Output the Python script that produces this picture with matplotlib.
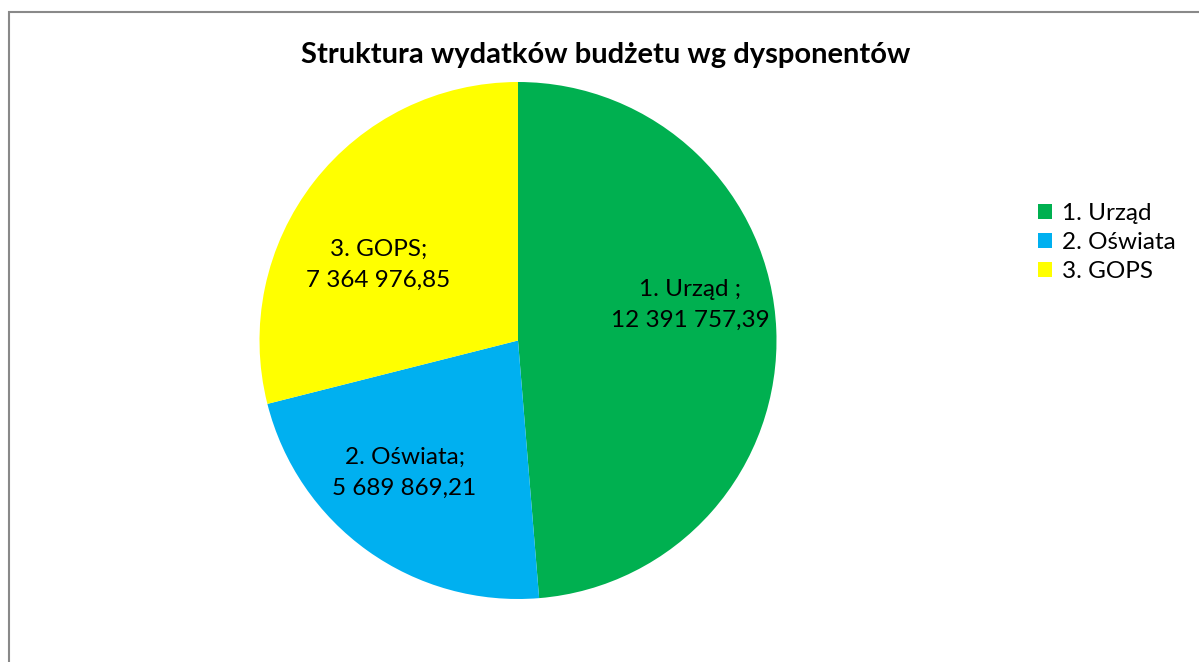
import matplotlib.pyplot as plt
from matplotlib.patches import Rectangle

# Data
CATEGORIES = ["1. Urząd", "2. Oświata", "3. GOPS"]
LABEL_PREFIX = ["1. Urząd ;", "2. Oświata;", "3. GOPS;"]
VALUES = [12391757.39, 5689869.21, 7364976.85]
COLORS = ["#00B050", "#00B0F0", "#FFFF00"]
TITLE = "Struktura wydatków budżetu wg dysponentów"

plt.rcParams['font.family'] = ['Lato', 'DejaVu Sans']

W, H = 1199, 662
fig = plt.figure(figsize=(W / 100, H / 100), dpi=100)

# chart area border (open to the right/bottom as in the source)
fig.patches.append(Rectangle((8.5 / W, -0.1), 1.2, 1 - 11.5 / H + 0.1,
                             transform=fig.transFigure, fill=False,
                             edgecolor="#898989", linewidth=1.5))


def pl_fmt(v):
    return f"{v:,.2f}".replace(",", " ").replace(".", ",")


cx, cy, r = 518, 340.5, 258.5
ax = fig.add_axes([(cx - r) / W, (H - cy - r) / H, 2 * r / W, 2 * r / H])

labels = [f"{p}\n{pl_fmt(v)}" for p, v in zip(LABEL_PREFIX, VALUES)]
wedges, texts = ax.pie(VALUES, colors=COLORS, startangle=90, counterclock=False,
                       labels=labels, labeldistance=0.67,
                       textprops={'fontsize': 17.5, 'ha': 'center', 'va': 'center',
                                  'linespacing': 1.6},
                       wedgeprops={'linewidth': 0})
# Excel "best fit" label spots
label_pos = [(0.665, 0.137), (-0.439, -0.513), (-0.540, 0.294)]
for t, pos in zip(texts, label_pos):
    t.set_ha('center')
    t.set_position(pos)
ax.set_xlim(-1, 1)
ax.set_ylim(-1, 1)
ax.set_aspect('auto')
ax.axis('off')

fig.text(606 / W, 1 - 55 / H, TITLE, ha='center', va='center',
         fontsize=21, fontweight='bold')

leg = fig.legend(wedges, CATEGORIES, loc='upper left',
                 bbox_to_anchor=(1016 / W, 1 - 181 / H), frameon=False,
                 fontsize=17.5, handlelength=0.6, handleheight=0.6,
                 handletextpad=0.4, labelspacing=0.33)

fig.savefig("out.png", dpi=100, facecolor="white")
